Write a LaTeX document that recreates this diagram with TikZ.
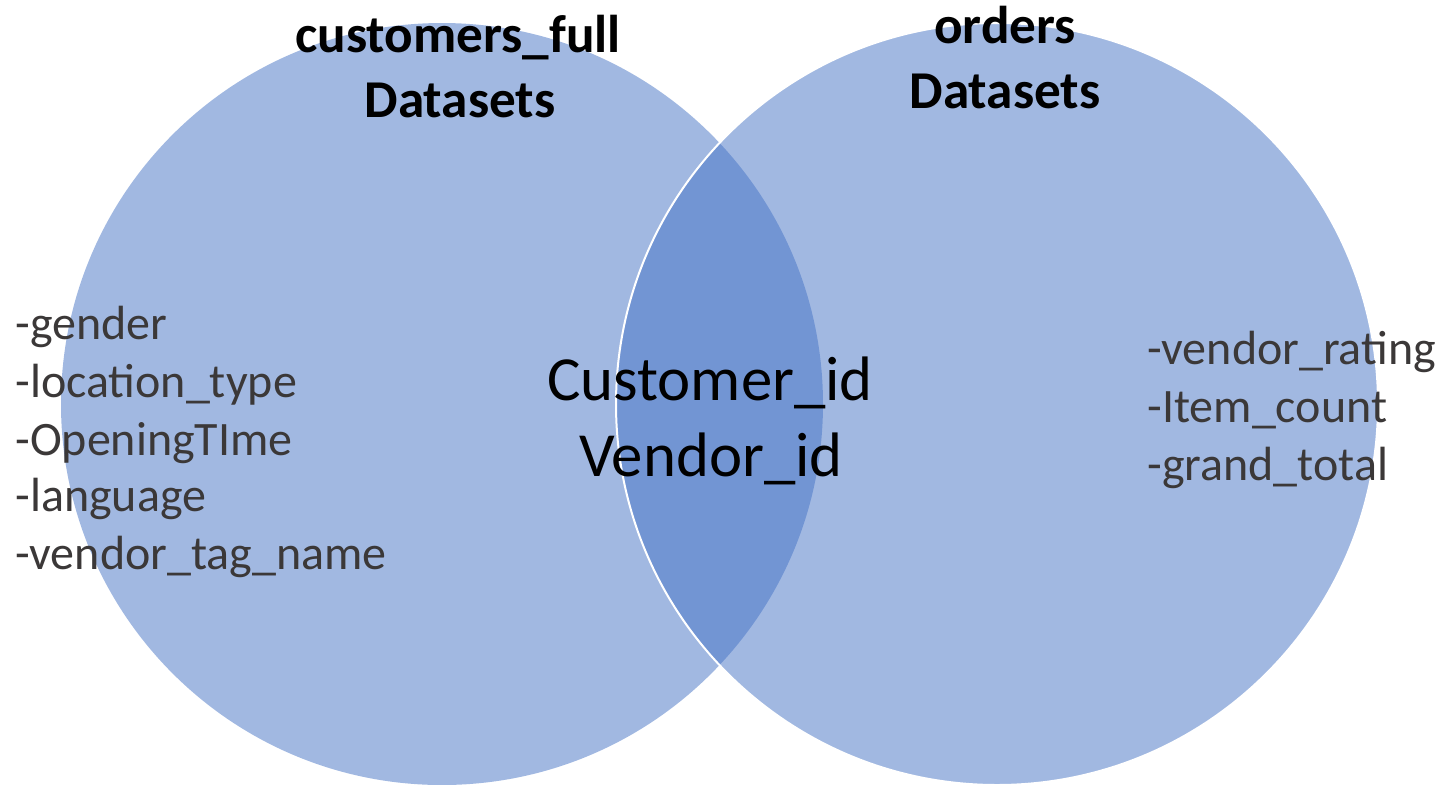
\documentclass[tikz,border=0pt]{standalone}
\usepackage{fontspec}
\setmainfont{Carlito}
\definecolor{setblue}{HTML}{4472C4}
\definecolor{itemgray}{HTML}{3B3838}
\begin{document}
\begin{tikzpicture}[x=0.5pt,y=-0.5pt,
  setfill/.style={fill=setblue,fill opacity=0.5},
  title/.style={anchor=base,inner sep=0pt,text=black,font=\fontsize{26.6}{31}\selectfont\bfseries},
  item/.style={anchor=base west,inner sep=0pt,text=itemgray,font=\fontsize{24}{29}\selectfont},
  shared/.style={anchor=base,inner sep=0pt,text=black,font=\fontsize{31.4}{37}\selectfont}]
\useasboundingbox (0,0) rectangle (1442,784);
% the two sets
\fill[setfill] (442,404) circle[radius=190.5pt];
\path[setfill,draw=white,line width=1pt] (997,404) circle[radius=190.5pt];
% set titles
\node[title] (ct1) at (458,52) {customers\_full};
\node[title] (ct2) at (460,117) {Datasets};
\node[title] (ot1) at (1005,43) {orders};
\node[title] (ot2) at (1005,108) {Datasets};
% attributes of customers_full
\node[item] (c1) at (15,339) {-gender};
\node[item] (c2) at (15,397) {-location\_type};
\node[item] (c3) at (15,455) {-OpeningTIme};
\node[item] (c4) at (15,511) {-language};
\node[item] (c5) at (15,569) {-vendor\_tag\_name};
% attributes of orders
\node[item] (o1) at (1147,364) {-vendor\_rating};
\node[item] (o2) at (1147,422) {-Item\_count};
\node[item] (o3) at (1147,480) {-grand\_total};
% shared keys
\node[shared] (k1) at (710,400) {Customer\_id};
\node[shared] (k2) at (711,476) {Vendor\_id};
\end{tikzpicture}
\end{document}
